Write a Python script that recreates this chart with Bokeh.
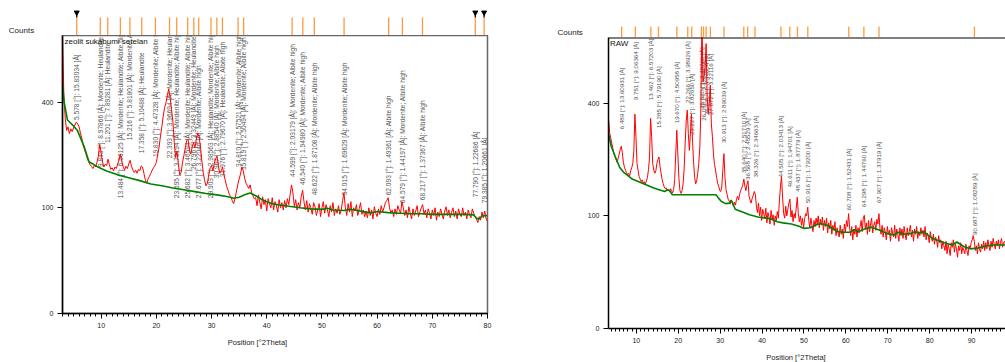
import numpy as np
from bokeh.plotting import figure
from bokeh.layouts import row, column
from bokeh.models import (Range1d, SingleIntervalTicker, FixedTicker,
                          CustomJSTickFormatter, Label, ColumnDataSource, Span)
from bokeh.embed import file_html
from bokeh.resources import INLINE
from bokeh.core.properties import value

FONT = "Liberation Sans"
RED = "#ff0000"
GREEN = "#008000"
ORANGE = "#ff9a3c"
LABEL_GREY = "#555555"

y_tick_counts = [0, 100, 400]
x_axis_title = "Position [°2Theta]"
y_axis_title = "Counts"

# ---------------- left pattern ----------------
left_title = "zeolit sukabumi setelan"
left_scan_start = 3.0
left_scan_step = 0.25
left_counts = [
    700, 420, 340, 300, 312, 290, 305, 296, 308, 318, 328, 322, 312, 292, 275, 252, 240, 228, 214, 206,
    198, 194, 188, 196, 192, 205, 222, 256, 232, 205, 192, 200, 196, 213, 198, 186, 190, 182, 192, 188,
    200, 212, 228, 206, 192, 184, 194, 188, 200, 210, 194, 184, 178, 184, 176, 186, 182, 195, 192, 176,
    160, 152, 162, 168, 176, 184, 190, 196, 204, 226, 248, 282, 312, 348, 380, 398, 425, 452, 418, 372,
    330, 262, 218, 236, 198, 172, 178, 205, 224, 246, 268, 272, 238, 228, 248, 262, 246, 272, 292, 280,
    248, 208, 178, 158, 146, 152, 172, 190, 196, 182, 202, 214, 222, 194, 176, 182, 192, 172, 158, 144,
    136, 126, 122, 114, 108, 118, 132, 148, 162, 174, 192, 182, 164, 152, 146, 140, 148, 132, 124, 118,
    120, 104, 126, 110, 98, 122, 106, 116, 94, 118, 108, 100, 120, 96, 112, 104, 92, 116, 100, 110,
    96, 114, 100, 118, 106, 128, 148, 130, 102, 116, 96, 110, 100, 122, 136, 112, 96, 114, 92, 108,
    100, 88, 110, 102, 86, 96, 108, 84, 100, 112, 90, 106, 96, 84, 104, 92, 110, 86, 98, 90,
    104, 88, 96, 114, 130, 100, 86, 108, 92, 112, 84, 100, 94, 106, 86, 98, 110, 88, 96, 84,
    94, 82, 100, 86, 96, 80, 102, 90, 84, 98, 88, 104, 92, 100, 110, 114, 120, 100, 90, 96,
    84, 98, 88, 104, 96, 90, 112, 100, 86, 96, 82, 102, 90, 80, 98, 86, 94, 104, 84, 92,
    100, 106, 88, 96, 82, 98, 90, 80, 96, 86, 100, 78, 92, 84, 98, 88, 80, 94, 102, 86,
    96, 82, 92, 100, 84, 94, 80, 98, 88, 84, 100, 86, 92, 80, 96, 88, 82, 98, 90, 84,
    80, 74, 84, 78, 92, 82, 94, 80, 76,
]
left_bg_pos = [3.0, 3.3, 3.9, 5.0, 5.7, 6.9, 7.8, 9.3, 11, 13, 15, 17, 19, 21, 23, 25, 27, 29,
               31, 33, 34, 35, 36, 37, 38, 39, 40, 41, 42, 44, 46, 48, 50, 51, 52, 54, 55,
               56, 58, 59, 60, 62, 64, 66, 68, 70, 72, 74, 76, 77.5, 78, 78.5, 79, 80]
left_bg_counts = [470, 400, 335, 315, 300, 250, 206, 193, 182, 172, 165, 158, 150, 146, 141, 137,
                  133, 129, 126, 122, 119, 121, 126, 130, 124, 117, 112, 108, 106, 103, 100, 98,
                  97, 99, 96, 95, 97, 96, 92, 91, 93, 91, 90, 89, 89, 88, 88, 88, 88, 87, 81,
                  80, 85, 86]
left_peak_pos = [5.578, 9.843, 11.201, 13.484, 15.216, 17.358, 19.830, 22.393, 23.695, 25.682,
                 26.796, 27.677, 29.903, 30.967, 31.976, 34.810, 35.819, 44.599, 46.540,
                 48.622, 54.015, 62.093, 64.579, 68.217, 77.790, 79.385]
left_peak_text = [
    "5.578 [°]: 15.83034 [Å]",
    "9.843 [°]: 8.97866 [Å]: Mordenite; Heulandite",
    "11.201 [°]: 7.89281 [Å]: Heulandite",
    "13.484 [°]: 6.56125 [Å]: Mordenite; Heulandite; Albite high",
    "15.216 [°]: 5.81801 [Å]: Mordenite; Albite high",
    "17.358 [°]: 5.10488 [Å]: Heulandite",
    "19.830 [°]: 4.47328 [Å]: Mordenite; Albite high",
    "22.393 [°]: 3.96694 [Å]: Mordenite; Heulandite",
    "23.695 [°]: 3.75194 [Å]: Mordenite; Heulandite; Albite high",
    "25.682 [°]: 3.46594 [Å]: Mordenite; Heulandite; Albite high",
    "26.796 [°]: 3.32449 [Å]: Mordenite; Heulandite",
    "27.677 [°]: 3.22046 [Å]: Mordenite; Albite high",
    "29.903 [°]: 2.98563 [Å]: Heulandite; Mordenite; Albite high",
    "30.967 [°]: 2.88540 [Å]: Mordenite; Albite high",
    "31.976 [°]: 2.79670 [Å]: Heulandite; Albite high",
    "34.810 [°]: 2.57521 [Å]: Mordenite; Albite high",
    "35.819 [°]: 2.50494 [Å]: Mordenite; Albite high",
    "44.599 [°]: 2.03179 [Å]: Mordenite; Albite high",
    "46.540 [°]: 1.94980 [Å]: Mordenite; Albite high",
    "48.622 [°]: 1.87108 [Å]: Mordenite; Albite high",
    "54.015 [°]: 1.69629 [Å]: Mordenite; Albite high",
    "62.093 [°]: 1.49361 [Å]: Albite high",
    "64.579 [°]: 1.44197 [Å]: Mordenite; Albite high",
    "68.217 [°]: 1.37367 [Å]: Albite high",
    "77.790 [°]: 1.22686 [Å]",
    "79.385 [°]: 1.20661 [Å]",
]
left_label_base = [335, 192, 260, 119, 269, 230, 219, 216, 119, 119, 184, 119, 119, 164, 167,
                   192, 184, 167, 148, 125, 125, 125, 109, 115, 121, 109]
left_flagged = [5.578, 77.790, 79.385]

# ---------------- right pattern ----------------
right_title = "RAW"
right_scan_start = 3.4
right_scan_step = 0.25
right_counts = [
    340, 300, 285, 270, 255, 240, 232, 225, 218, 228, 240, 252, 262, 245, 218, 205, 198, 192, 186, 190,
    184, 196, 204, 215, 248, 362, 290, 215, 198, 182, 176, 170, 174, 166, 170, 164, 172, 180, 200, 232,
    348, 290, 215, 198, 190, 196, 215, 225, 232, 206, 190, 175, 165, 158, 154, 156, 150, 152, 148, 154,
    150, 145, 152, 175, 240, 310, 240, 178, 150, 144, 150, 165, 200, 270, 340, 376, 300, 250, 300, 362,
    280, 220, 180, 165, 172, 190, 215, 260, 380, 760, 480, 500, 540, 640, 420, 364, 400, 467, 330, 290,
    240, 212, 198, 180, 166, 160, 150, 148, 160, 200, 241, 180, 152, 142, 132, 128, 122, 130, 124, 118,
    126, 120, 132, 138, 130, 142, 150, 156, 162, 176, 160, 150, 164, 172, 138, 130, 124, 134, 140, 148,
    142, 118, 106, 124, 100, 116, 92, 112, 104, 96, 114, 88, 106, 98, 86, 110, 94, 102, 84, 100,
    92, 108, 96, 130, 160, 182, 136, 104, 96, 118, 100, 112, 124, 132, 98, 110, 90, 104, 96, 114,
    136, 104, 90, 100, 84, 96, 80, 94, 104, 100, 116, 92, 80, 96, 84, 74, 92, 82, 96, 86,
    100, 80, 94, 84, 98, 76, 92, 82, 96, 72, 88, 78, 92, 70, 84, 76, 90, 68, 80, 72,
    66, 84, 70, 78, 64, 86, 74, 92, 82, 104, 80, 68, 82, 62, 78, 70, 84, 66, 80, 72,
    82, 92, 74, 96, 101, 78, 88, 70, 92, 74, 86, 96, 72, 84, 90, 76, 94, 86, 104, 78,
    70, 84, 66, 80, 74, 62, 82, 70, 76, 60, 80, 72, 66, 84, 64, 78, 70, 60, 80, 68,
    78, 64, 82, 70, 62, 80, 68, 74, 84, 66, 76, 60, 78, 70, 82, 64, 74, 68, 80, 70,
    76, 66, 82, 62, 72, 68, 58, 74, 64, 60, 70, 56, 66, 62, 52, 68, 58, 62, 50, 60,
    54, 48, 60, 44, 56, 50, 42, 58, 52, 62, 46, 56, 50, 40, 54, 48, 58, 44, 52, 48,
    44, 56, 48, 42, 54, 50, 58, 62, 68, 60, 48, 54, 44, 58, 50, 46, 56, 50, 60, 48,
    58, 50, 62, 54, 48, 60, 52, 64, 56, 50, 60, 54, 62, 50, 58, 64, 52, 58, 60, 54,
]
right_bg_pos = [3.35, 4.0, 5.0, 6.0, 7.0, 8.0, 9.0, 10.0, 11.0, 12.0, 13.0, 14.0, 15.0, 16.0,
                16.8, 17.4, 17.9, 18.6, 29.0, 29.6, 30.3, 31.3, 32.2, 32.6, 33.0, 33.6, 35.0,
                37.0, 39.0, 41.0, 42.0, 43.6, 45.0, 47.0, 49.0, 50.0, 51.5, 53.0, 54.0, 55.5,
                57.0, 58.0, 59.5, 61.0, 62.0, 63.0, 64.0, 65.9, 67.0, 68.5, 69.9, 71.5, 72.5,
                73.5, 75.5, 76.5, 77.5, 78.6, 79.5, 81.0, 82.0, 83.5, 85.4, 86.5, 88.1, 89.7,
                91.5, 92.9, 95.0, 98.2]
right_bg_counts = [300, 262, 232, 205, 192, 184, 176, 172, 168, 164, 160, 156, 153, 150,
                   148, 152, 150, 141, 141, 134, 127, 123, 124, 130, 124, 112, 108,
                   102, 98, 96, 95, 90, 88, 86, 82, 79, 80, 85, 87, 84,
                   78, 74, 73, 73, 77, 74, 77, 81, 79, 75, 71, 69, 73,
                   70, 71, 74, 72, 74, 69, 63, 61, 58, 55, 59, 53, 50,
                   51, 53, 55, 55]
right_peak_pos = [6.489, 9.751, 13.462, 15.285, 19.670, 22.266, 23.227, 25.520, 26.030, 26.641,
                  27.672, 30.913, 35.640, 36.568, 38.326, 44.505, 46.611, 48.437, 50.916,
                  60.708, 64.298, 67.907, 90.687]
right_peak_text = [
    "6.489 [°]: 13.60931 [Å]",
    "9.751 [°]: 9.06364 [Å]",
    "13.462 [°]: 6.57203 [Å]",
    "15.285 [°]: 5.79190 [Å]",
    "19.670 [°]: 4.50958 [Å]",
    "22.266 [°]: 3.98926 [Å]",
    "23.227 [°]: 3.82650 [Å]",
    "25.520 [°]: 3.48760 [Å]",
    "26.030 [°]: 3.42046 [Å]",
    "26.641 [°]: 3.34604 [Å]",
    "27.672 [°]: 3.22116 [Å]",
    "30.913 [°]: 2.89039 [Å]",
    "35.640 [°]: 2.51710 [Å]",
    "36.568 [°]: 2.45529 [Å]",
    "38.326 [°]: 2.34663 [Å]",
    "44.505 [°]: 2.03413 [Å]",
    "46.611 [°]: 1.94701 [Å]",
    "48.437 [°]: 1.87779 [Å]",
    "50.916 [°]: 1.79200 [Å]",
    "60.708 [°]: 1.52431 [Å]",
    "64.298 [°]: 1.44760 [Å]",
    "67.907 [°]: 1.37919 [Å]",
    "90.687 [°]: 1.08289 [Å]",
]
right_label_base = [313, 411, 411, 317, 332, 401, 295, 380, 340, 359, 359, 271, 190, 174, 180,
                    180, 157, 147, 124, 110, 116, 124, 69]


def scan_positions(start, step, counts):
    return start + step * np.arange(len(counts))


def bare_fig(width, height, x_range, y_range):
    f = figure(width=width, height=height, x_range=x_range, y_range=y_range,
               x_axis_location=None, y_axis_location=None, toolbar_location=None,
               output_backend="svg", min_border_left=0, min_border_right=0,
               min_border_top=0, min_border_bottom=0, frame_align=False)
    f.outline_line_color = None
    f.xgrid.visible = False
    f.ygrid.visible = False
    f.background_fill_color = "white"
    f.border_fill_color = "white"
    return f


def style_main(p):
    p.xgrid.visible = False
    p.ygrid.visible = False
    p.background_fill_color = "white"
    p.border_fill_color = "white"
    p.xaxis.ticker = SingleIntervalTicker(interval=10, num_minor_ticks=10)
    p.yaxis.ticker = FixedTicker(ticks=[float(np.sqrt(v)) for v in y_tick_counts])
    p.yaxis.formatter = CustomJSTickFormatter(code="return String(Math.round(tick*tick));")
    for ax in (p.xaxis[0], p.yaxis[0]):
        ax.axis_line_color = "black"
        ax.axis_line_width = 1.5
        ax.major_tick_line_color = "black"
        ax.major_tick_out = 5
        ax.major_tick_in = 0
        ax.minor_tick_line_color = "black"
        ax.minor_tick_out = 3
        ax.minor_tick_in = 0
        ax.major_label_text_font = FONT
        ax.major_label_text_font_size = "7px"
        ax.major_label_text_color = "#222222"
        ax.major_label_standoff = 4
    p.yaxis[0].minor_tick_line_color = None


def draw_data(p, pos, counts, bg_pos, bg_counts, peak_pos, peak_text, label_base, font_px):
    lab = ColumnDataSource(dict(x=peak_pos, y=np.sqrt(np.array(label_base, float)), t=peak_text))
    p.text(x="x", y="y", text="t", source=lab, angle=np.pi / 2, text_align="left",
           text_baseline="middle", text_font=value(FONT), text_font_size=font_px,
           text_color=LABEL_GREY)
    p.line(pos, np.sqrt(np.array(counts, float)), line_color=RED, line_width=1)
    p.line(bg_pos, np.sqrt(np.array(bg_counts, float)), line_color=GREEN, line_width=1.6)


def strip_fig(main_range, width, height, bl, br, peak_pos, line_top, counts_px, counts_py,
              flagged=None):
    frame_w = width - bl - br
    ppd = frame_w / (main_range.end - main_range.start)
    xr = Range1d(main_range.start - bl / ppd, main_range.end + br / ppd)
    s = bare_fig(width, height, xr, Range1d(0, height))
    s.segment(x0=peak_pos, y0=[0] * len(peak_pos), x1=peak_pos, y1=[line_top] * len(peak_pos),
              line_color=ORANGE, line_width=1.3)
    if flagged:
        s.segment(x0=flagged, y0=[line_top] * len(flagged), x1=flagged,
                  y1=[line_top + 5] * len(flagged), line_color="black", line_width=1.3)
        s.scatter(flagged, [line_top + 5] * len(flagged), marker="inverted_triangle",
                  size=5, color="black")
    s.add_layout(Label(x=xr.start + counts_px / ppd, y=height - counts_py, text=y_axis_title,
                       text_font=FONT, text_font_size="8px", text_color="#222222",
                       text_align="left", text_baseline="middle"))
    return s


def axis_title_fig(width, height, cx, cy):
    f = bare_fig(width, height, Range1d(0, width), Range1d(0, height))
    f.add_layout(Label(x=cx, y=height - cy, text=x_axis_title, text_font=FONT,
                       text_font_size="7.5px", text_color="#222222",
                       text_align="center", text_baseline="middle"))
    return f


# ---------------- left panel ----------------
lx = Range1d(3.0, 80.0)
l_top = 26.3
left_main = figure(width=538, height=302, x_range=lx, y_range=Range1d(0, l_top),
                   toolbar_location=None, output_backend="svg",
                   min_border_left=62, min_border_right=51, min_border_top=0,
                   min_border_bottom=24)
left_main.outline_line_color = "#666666"
left_main.outline_line_width = 1.5
style_main(left_main)
draw_data(left_main, scan_positions(left_scan_start, left_scan_step, left_counts), left_counts,
          left_bg_pos, left_bg_counts, left_peak_pos, left_peak_text, left_label_base, "6.6px")
left_main.add_layout(Label(x=3.36, y=l_top - 0.1, text=left_title, text_font=FONT,
                           text_font_size="8px", text_color="#111111",
                           text_align="left", text_baseline="top"))
left_strip = strip_fig(lx, 538, 35, 62, 51, left_peak_pos, 18, 8.3, 30, left_flagged)
left_xt = axis_title_fig(538, 25, 257, 4.5)

# ---------------- right panel ----------------
rx = Range1d(3.35, 98.1)
r_top = 25.84
right_main = figure(width=467, height=313, x_range=rx, y_range=Range1d(0, r_top),
                    toolbar_location=None, output_backend="svg",
                    min_border_left=70, min_border_right=0, min_border_top=0,
                    min_border_bottom=22)
right_main.outline_line_color = None
style_main(right_main)
draw_data(right_main, scan_positions(right_scan_start, right_scan_step, right_counts),
          right_counts, right_bg_pos, right_bg_counts, right_peak_pos, right_peak_text,
          right_label_base, "6.2px")
right_main.add_layout(Span(location=r_top, dimension="width", line_color="black",
                           line_width=2))
right_main.add_layout(Label(x=3.7, y=r_top - 0.13, text=right_title, text_font=FONT,
                            text_font_size="8px", text_color="#111111",
                            text_align="left", text_baseline="top"))
right_strip = strip_fig(rx, 467, 37, 70, 0, right_peak_pos, 11, 19, 32)
right_xt = axis_title_fig(467, 12, 257.5, 7)

layout = row(column(left_strip, left_main, left_xt, spacing=0),
             column(right_strip, right_main, right_xt, spacing=0), spacing=0)

open("out.html", "w").write(file_html(layout, INLINE))
